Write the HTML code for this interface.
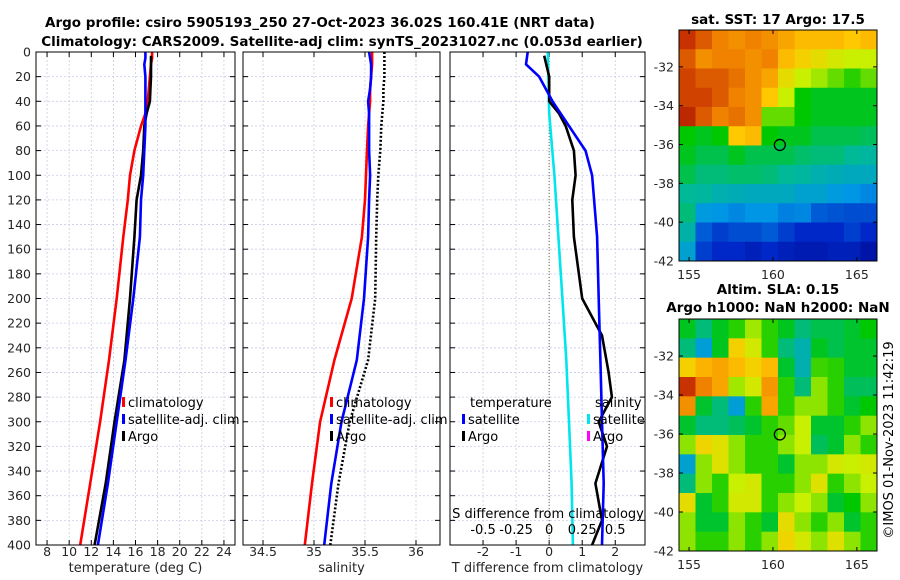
<!DOCTYPE html>
<html><head><meta charset="utf-8"><style>
body{margin:0;background:#fff}
svg{display:block;font-family:"DejaVu Sans","Liberation Sans",sans-serif}
</style></head><body>
<svg id="c" width="900" height="580" viewBox="0 0 900 580"></svg>
<script>
const depths=[0,5,10,20,30,40,50,60,80,100,120,150,200,250,300,350,400];
const tClim=[17.5,17.5,17.4,17.3,17.2,17.1,16.9,16.5,15.9,15.5,15.3,14.9,14.3,13.6,12.8,11.9,11.0];
const tSat=[16.9,16.9,16.8,16.9,16.9,16.9,16.9,16.9,16.8,16.7,16.5,16.4,15.8,15.1,14.3,13.5,12.6];
const tArgoDepths=[3,10,20,30,40,50,60,80,100,120,150,200,250,300,350,400];
const tArgo=[17.4,17.4,17.4,17.35,17.3,17.0,16.8,16.7,16.5,16.1,15.9,15.5,15.0,14.1,13.3,12.3];
const sClim=[35.57,35.57,35.57,35.56,35.55,35.55,35.54,35.53,35.52,35.51,35.5,35.47,35.37,35.2,35.06,34.98,34.91];
const sSat=[35.54,35.55,35.56,35.56,35.55,35.53,35.54,35.54,35.54,35.55,35.54,35.53,35.49,35.42,35.27,35.17,35.1];
const sArgo=[35.69,35.69,35.69,35.69,35.68,35.68,35.67,35.66,35.65,35.63,35.62,35.61,35.6,35.53,35.35,35.24,35.16];
const dTDepths=[3,20,40,50,60,80,100,120,150,200,230,260,280,300,320,350,380,400];
const dTArgo=[-0.15,0,0,0.3,0.5,0.75,0.8,0.7,0.75,1.0,1.6,1.8,1.9,1.5,1.75,1.4,1.6,1.3];
const dTSatDepths=[0,10,20,40,60,80,100,150,200,250,300,350,400];
const dTSat=[-0.65,-0.7,-0.3,0.1,0.6,1.1,1.3,1.45,1.5,1.55,1.6,1.65,1.6];
const dSSatDepths=[0,50,100,150,200,250,300,350,400];
const dSSat=[-0.01,0,0.04,0.07,0.1,0.13,0.15,0.17,0.18];
const tTicks=[8,10,12,14,16,18,20,22,24];
const sTicks=[34.5,35,35.5,36];
const dTTicks=[-2,-1,0,1,2];
const dSTicks=[-0.5,-0.25,0,0.25,0.5];
const depthTicks=[0,20,40,60,80,100,120,140,160,180,200,220,240,260,280,300,320,340,360,380,400];
const sstGrid=[
[0.9,0.85,0.8,0.78,0.8,0.78,0.75,0.72,0.72,0.72,0.7,0.72],
[0.85,0.78,0.8,0.8,0.78,0.8,0.72,0.68,0.65,0.62,0.6,0.6],
[0.88,0.85,0.85,0.82,0.78,0.75,0.65,0.6,0.58,0.55,0.52,0.55],
[0.88,0.88,0.85,0.8,0.78,0.7,0.6,0.5,0.48,0.48,0.48,0.48],
[0.92,0.85,0.8,0.82,0.78,0.55,0.55,0.5,0.48,0.48,0.48,0.48],
[0.5,0.48,0.5,0.7,0.72,0.5,0.48,0.48,0.45,0.45,0.45,0.44],
[0.48,0.45,0.45,0.48,0.45,0.45,0.45,0.43,0.42,0.42,0.4,0.39],
[0.45,0.42,0.42,0.43,0.43,0.42,0.4,0.39,0.37,0.36,0.35,0.35],
[0.4,0.39,0.37,0.36,0.35,0.35,0.35,0.33,0.33,0.31,0.3,0.28],
[0.42,0.31,0.3,0.28,0.3,0.3,0.27,0.28,0.22,0.21,0.2,0.2],
[0.38,0.22,0.18,0.2,0.2,0.22,0.18,0.15,0.15,0.15,0.18,0.15],
[0.33,0.18,0.15,0.15,0.12,0.15,0.12,0.1,0.1,0.12,0.12,0.08]];
const slaGrid=[
[0.48,0.42,0.48,0.52,0.58,0.52,0.48,0.42,0.45,0.45,0.47,0.5],
[0.42,0.32,0.48,0.68,0.62,0.52,0.42,0.37,0.48,0.45,0.47,0.47],
[0.68,0.73,0.75,0.72,0.68,0.72,0.47,0.37,0.53,0.52,0.47,0.47],
[0.9,0.8,0.75,0.58,0.62,0.77,0.52,0.42,0.57,0.52,0.44,0.44],
[0.78,0.47,0.42,0.32,0.52,0.75,0.52,0.57,0.57,0.52,0.47,0.5],
[0.47,0.42,0.42,0.44,0.47,0.52,0.55,0.6,0.47,0.47,0.52,0.57],
[0.57,0.67,0.64,0.57,0.52,0.52,0.57,0.6,0.44,0.47,0.57,0.52],
[0.33,0.57,0.64,0.57,0.52,0.52,0.47,0.57,0.57,0.62,0.6,0.62],
[0.42,0.57,0.52,0.6,0.62,0.52,0.52,0.57,0.64,0.52,0.57,0.6],
[0.65,0.47,0.52,0.62,0.62,0.52,0.57,0.6,0.57,0.47,0.5,0.57],
[0.57,0.47,0.47,0.57,0.52,0.47,0.65,0.57,0.52,0.57,0.47,0.52],
[0.57,0.52,0.52,0.57,0.52,0.57,0.67,0.62,0.57,0.64,0.57,0.52]];
const lonTicks=[155,160,165];
const latTicks=[-32,-34,-36,-38,-40,-42];
const argoLon=160.41, argoLat=-36.02;

const NS="http://www.w3.org/2000/svg";
const svg=document.getElementById('c');
function el(tag,attrs,parent,text){const e=document.createElementNS(NS,tag);for(const k in attrs)e.setAttribute(k,attrs[k]);if(text!==undefined)e.textContent=text;(parent||svg).appendChild(e);return e;}
const Y0=52,Y1=545;
const yD=d=>Y0+(d/400)*(Y1-Y0);
function lin(d0,d1,r0,r1){return v=>r0+(v-d0)/(d1-d0)*(r1-r0);}
function panel(name,x0,x1,ticks,xs,xlabel,showY){
  const g=el('g',{},svg);
  
  depthTicks.forEach(d=>{const l=el('line',{x1:x0,x2:x1,y1:yD(d),y2:yD(d),stroke:'#c8cde8','stroke-width':0.8,'stroke-dasharray':'2,2'},g);
    el('line',{x1:x0,x2:x0+5,y1:yD(d),y2:yD(d),stroke:'#000'},g);el('line',{x1:x1-5,x2:x1,y1:yD(d),y2:yD(d),stroke:'#000'},g);
    if(showY){const t=el('text',{x:x0-5,y:yD(d)+4.5,'text-anchor':'end','font-size':12.5,fill:'#262626'},g,String(d));}});
  ticks.forEach(v=>{const x=xs(v);el('line',{x1:x,x2:x,y1:Y0,y2:Y1,stroke:'#c8cde8','stroke-width':0.8,'stroke-dasharray':'2,2'},g);
    el('line',{x1:x,x2:x,y1:Y1-5,y2:Y1,stroke:'#000'},g);el('line',{x1:x,x2:x,y1:Y0,y2:Y0+5,stroke:'#000'},g);
    const t=el('text',{x:x,y:556,'text-anchor':'middle','font-size':12.5,fill:'#262626'},g,String(v));});
  const t=el('text',{x:(x0+x1)/2,y:572,'text-anchor':'middle','font-size':13,fill:'#262626'},g,xlabel);
  return g;
}
function frame(g,x0,x1){const r=el('rect',{x:x0,y:Y0,width:x1-x0,height:Y1-Y0,fill:'none',stroke:'#000','stroke-width':1},g);}
function line(g,xs,vals,ds,color,name,dash){const pts=vals.map((v,i)=>xs(v).toFixed(1)+','+yD(ds[i]).toFixed(1)).join(' ');const p=el('polyline',{points:pts,fill:'none',stroke:color,'stroke-width':2.6,'stroke-linejoin':'round','stroke-dasharray':dash||'none'},g);}
function legend(g,x,y,color,label){const m=el('rect',{x:x,y:y-10,width:3,height:10,fill:color},g);const t=el('text',{x:x+6,y:y,'font-size':13,fill:'#000'},g,label);}

const xT=lin(7,25,36,235);
const g1=panel('temperature-panel',36,235,tTicks,xT,'temperature (deg C)',true);
line(g1,xT,tClim,depths,'#ff0000','climatology-temp-line');
line(g1,xT,tArgo,tArgoDepths,'#000','argo-temp-line');
line(g1,xT,tSat,depths,'#0000ff','sat-adj-temp-line');
frame(g1,36,235);
legend(g1,122,407,'#ff0000','climatology');legend(g1,122,424,'#0000ff','satellite-adj. clim');legend(g1,122,441,'#000','Argo');
const xS=lin(34.5,36,263,416);
const g2=panel('salinity-panel',243,440,sTicks,xS,'salinity',false);
line(g2,xS,sClim,depths,'#ff0000','climatology-sal-line');
line(g2,xS,sSat,depths,'#0000ff','sat-adj-sal-line');
line(g2,xS,sArgo,depths,'#000','argo-sal-line','2,2');
frame(g2,243,440);
legend(g2,330,407,'#ff0000','climatology');legend(g2,330,424,'#0000ff','satellite-adj. clim');legend(g2,330,441,'#000','Argo');
const xDT=lin(-3,2.9,450,645);
const xDS=v=>xDT(v*4);
const g3=panel('difference-panel',450,645,dTTicks,xDT,'T difference from climatology',false);
const zl=el('line',{x1:xDT(0),x2:xDT(0),y1:Y0,y2:Y1,stroke:'#6b6b3a','stroke-width':1,'stroke-dasharray':'1,2'},g3);
line(g3,xDS,dSSat,dSSatDepths,'#00e5ee','sat-sal-diff-line');
line(g3,xDT,dTArgo,dTDepths,'#000','argo-temp-diff-line');
line(g3,xDT,dTSat,dTSatDepths,'#0000ff','sat-temp-diff-line');
frame(g3,450,645);
let tt=el('text',{x:548,y:518,'text-anchor':'middle','font-size':13,fill:'#000'},g3,'S difference from climatology');
dSTicks.forEach(v=>{const t=el('text',{x:xDS(v),y:534,'text-anchor':'middle','font-size':13,fill:'#000'},g3,String(v));});
tt=el('text',{x:470,y:407,'font-size':13,fill:'#000'},g3,'temperature');
tt=el('text',{x:595,y:407,'font-size':13,fill:'#000'},g3,'salinity');
legend(g3,462,424,'#0000ff','satellite');legend(g3,462,441,'#000','Argo');
legend(g3,587,424,'#00e5ee','satellite');legend(g3,587,441,'#ff00ff','Argo');

tt=el('text',{x:320,y:27,'text-anchor':'middle','font-size':13.5,'font-weight':'bold'},svg,'Argo profile: csiro 5905193_250 27-Oct-2023 36.02S 160.41E (NRT data)');
tt=el('text',{x:342,y:46,'text-anchor':'middle','font-size':13.5,'font-weight':'bold'},svg,'Climatology: CARS2009. Satellite-adj clim: synTS_20231027.nc (0.053d earlier)');

const cmapStops=[[0,0,0,130],[0.15,0,40,200],[0.3,0,150,230],[0.4,0,185,150],[0.5,0,200,0],[0.6,200,240,0],[0.7,255,200,0],[0.8,240,130,0],[0.9,200,50,0],[1,140,0,0]];
function cmap(v){v=Math.max(0,Math.min(1,v));for(let i=1;i<cmapStops.length;i++){const a=cmapStops[i-1],b=cmapStops[i];if(v<=b[0]){const f=(v-a[0])/(b[0]-a[0]);return `rgb(${Math.round(a[1]+f*(b[1]-a[1]))},${Math.round(a[2]+f*(b[2]-a[2]))},${Math.round(a[3]+f*(b[3]-a[3]))})`;}}return 'rgb(140,0,0)';}
function map(name,grid,y0,y1){
  const x0=679,x1=877;
  const g=el('g',{},svg);
  const xl=lin(154.4,166.2,x0,x1), yl=lin(-30.1,-42,y0,y1);
  const rows=grid.length,cols=grid[0].length,cw=(x1-x0)/cols,ch=(y1-y0)/rows;
  grid.forEach((row,i)=>row.forEach((v,j)=>{const r=el('rect',{x:x0+j*cw,y:y0+i*ch,width:cw+0.5,height:ch+0.5,fill:cmap(v)},g);}));
  el('rect',{x:x0,y:y0,width:x1-x0,height:y1-y0,fill:'none',stroke:'#000'},g);
  lonTicks.forEach(v=>{const x=xl(v);el('line',{x1:x,x2:x,y1:y1-4,y2:y1,stroke:'#000'},g);el('line',{x1:x,x2:x,y1:y0,y2:y0+4,stroke:'#000'},g);const t=el('text',{x:x,y:y1+18,'text-anchor':'middle','font-size':12.5,fill:'#262626'},g,String(v));});
  latTicks.forEach(v=>{const y=yl(v);el('line',{x1:x0,x2:x0+4,y1:y,y2:y,stroke:'#000'},g);el('line',{x1:x1-4,x2:x1,y1:y,y2:y,stroke:'#000'},g);const t=el('text',{x:x0-5,y:y+4.5,'text-anchor':'end','font-size':12.5,fill:'#262626'},g,String(v));});
  const c=el('circle',{cx:xl(argoLon),cy:yl(argoLat),r:5.5,fill:'none',stroke:'#000','stroke-width':1.3},g);
}
map('sst-map',sstGrid,30,261);
map('sla-map',slaGrid,319,551);
tt=el('text',{x:778,y:24,'text-anchor':'middle','font-size':13.5,'font-weight':'bold'},svg,'sat. SST: 17 Argo: 17.5');
tt=el('text',{x:778,y:294,'text-anchor':'middle','font-size':13.5,'font-weight':'bold'},svg,'Altim. SLA: 0.15');
tt=el('text',{x:778,y:312,'text-anchor':'middle','font-size':13.5,'font-weight':'bold'},svg,'Argo h1000: NaN h2000: NaN');
tt=el('text',{x:0,y:0,'text-anchor':'middle','font-size':13,fill:'#000',transform:'translate(893,440) rotate(-90)'},svg,'©IMOS 01-Nov-2023 11:42:19');
</script>
</body></html>
